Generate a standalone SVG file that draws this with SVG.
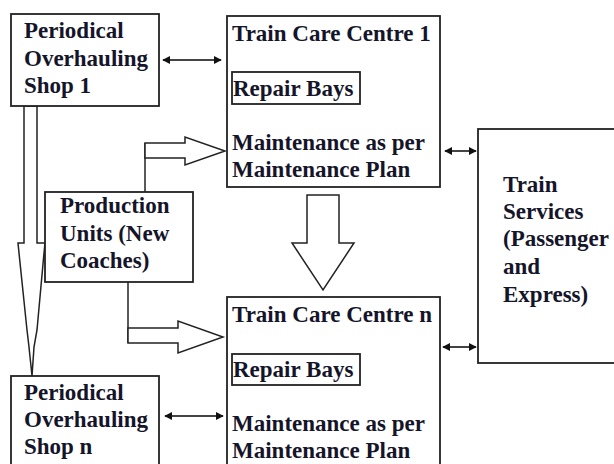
<svg xmlns="http://www.w3.org/2000/svg" width="614" height="464" viewBox="0 0 614 464">
<style>
.box{fill:#fff;stroke:#222;stroke-width:1.8}
.sub{fill:none;stroke:#222;stroke-width:1.8}
.blk{fill:#fff;stroke:#222;stroke-width:1.5;stroke-linejoin:miter}
.ln{fill:none;stroke:#222;stroke-width:1.5}
.dbl{stroke:#444;stroke-width:2;marker-start:url(#ah);marker-end:url(#ah)}
text{font-family:"Liberation Serif","Times New Roman",serif;font-weight:bold;font-size:23px;fill:#15152a}
</style>
<defs>
<marker id="ah" viewBox="0 0 10 10" refX="9" refY="5" markerWidth="4" markerHeight="4" orient="auto-start-reverse" markerUnits="strokeWidth">
<path d="M0,0 L10,5 L0,10 z" fill="#111"/>
</marker>
</defs>
<rect width="614" height="464" fill="#fff"/>
<g id="connectors">
<polygon class="blk" points="24,106 24,243 18,243 19,253 27,330 29,347 32,376 34,347 37,330 44,253 45,243 37,243 37,106"/>
<polyline class="ln" points="145,192 145,143"/>
<polygon class="blk" points="145,143 185,143 185,137 225,151 185,165 185,158 145,158"/>
<polyline class="ln" points="128,282 128,343"/>
<polygon class="blk" points="128,328 178,328 178,321 223,337 178,353 178,343 128,343"/>
<polygon class="blk" points="307,195 339,195 339,243 354,243 323,290 292,243 307,243"/>
<line class="dbl" x1="163" y1="60" x2="221" y2="60"/>
<line class="dbl" x1="165" y1="416" x2="223" y2="416"/>
<line class="dbl" x1="445" y1="151" x2="476" y2="151"/>
<line class="dbl" x1="443" y1="347" x2="476" y2="347"/>
</g>
<g id="pos1">
<rect class="box" x="11" y="14" width="148" height="92"/>
<text x="24" y="38">Periodical</text>
<text x="24" y="66">Overhauling</text>
<text x="24" y="93">Shop 1</text>
</g>
<g id="tcc1">
<rect class="box" x="227" y="16" width="213" height="171"/>
<text x="232" y="41">Train Care Centre 1</text>
<rect class="sub" x="232" y="72" width="128" height="32"/>
<text x="233" y="96">Repair Bays</text>
<text x="232" y="150">Maintenance as per</text>
<text x="232" y="177">Maintenance Plan</text>
</g>
<g id="production">
<rect class="box" x="45" y="192" width="148" height="90"/>
<text x="60" y="213">Production</text>
<text x="60" y="241">Units (New</text>
<text x="60" y="268">Coaches)</text>
</g>
<g id="services">
<rect class="box" x="478" y="129" width="145" height="234"/>
<text x="503" y="192">Train</text>
<text x="503" y="219">Services</text>
<text x="503" y="246">(Passenger</text>
<text x="503" y="274">and</text>
<text x="503" y="302">Express)</text>
</g>
<g id="posn">
<rect class="box" x="11" y="376" width="148" height="100"/>
<text x="24" y="400">Periodical</text>
<text x="24" y="427">Overhauling</text>
<text x="24" y="454">Shop n</text>
</g>
<g id="tccn">
<rect class="box" x="227" y="297" width="213" height="180"/>
<text x="232" y="322">Train Care Centre n</text>
<rect class="sub" x="232" y="354" width="128" height="31"/>
<text x="233" y="377">Repair Bays</text>
<text x="232" y="431">Maintenance as per</text>
<text x="232" y="458">Maintenance Plan</text>
</g>
</svg>
